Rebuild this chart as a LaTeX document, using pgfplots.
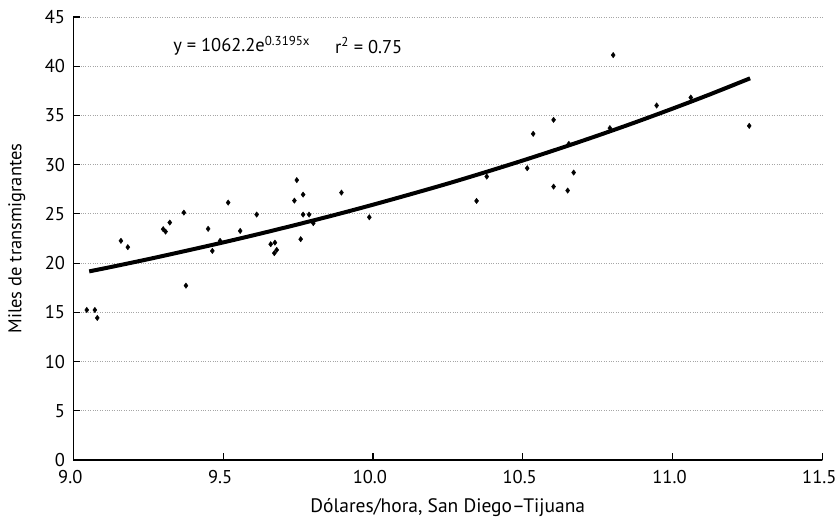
\documentclass[border=0pt]{standalone}
\usepackage{pgfplots}
\pgfplotsset{compat=1.18}
\usepackage{fontspec}
\setmainfont{PT Sans}
\begin{document}
\fontsize{18.5}{22}\selectfont
\begin{tikzpicture}
\path[use as bounding box] (-73.3pt,-58pt) rectangle (763.7pt,460pt);
\begin{axis}[
  scale only axis, width=749pt, height=443pt,
  xmin=9, xmax=11.5, ymin=0, ymax=45,
  axis lines=left, axis line style={-, line width=1.4pt},
  xtick={9,9.5,10,10.5,11,11.5},
  ytick={0,5,...,45},
  tick align=inside, major tick length=7pt,
  tick style={black, line width=1.2pt},
  xticklabel style={/pgf/number format/fixed, /pgf/number format/fixed zerofill, /pgf/number format/precision=1},
  /pgf/number format/assume math mode=true,
  ymajorgrids, grid style={gray!70, dotted, line width=0.8pt},
  xlabel={Dólares/hora, San Diego–Tijuana},
  ylabel={Miles de transmigrantes},
  xlabel style={at={(axis description cs:0.5,-0.086)}, anchor=north, inner sep=0pt, font=\fontsize{19.5}{22}\selectfont},
  ylabel style={at={(axis description cs:-0.0755,0.5)}, anchor=center, inner sep=0pt},
  yticklabel style={xshift=-2pt},
  xticklabel style={yshift=-4pt, xshift=-3pt},
  clip=false,
]
\addplot[only marks, mark=diamond*, mark size=2.7pt, black] coordinates {
(9.045,15.24) (9.072,15.24) (9.080,14.43) (9.159,22.26) (9.182,21.62)
(9.300,23.45) (9.308,23.20) (9.322,24.12) (9.369,25.13) (9.376,17.71)
(9.450,23.48) (9.464,21.24) (9.490,22.26) (9.517,26.15) (9.557,23.27)
(9.612,24.93) (9.659,21.92) (9.673,22.08) (9.671,21.01) (9.679,21.34)
(9.746,28.43) (9.738,26.35) (9.767,26.96) (9.759,22.43) (9.767,24.93)
(9.787,24.93) (9.801,24.06) (9.895,27.16) (9.988,24.66) (10.346,26.32)
(10.380,28.79) (10.515,29.64) (10.535,33.13) (10.603,34.55) (10.603,27.77)
(10.650,27.37) (10.670,29.20) (10.654,32.11) (10.791,33.71) (10.802,41.13)
(10.947,36.01) (11.061,36.82) (11.256,33.94)
};
\addplot[black, line width=4pt, smooth] coordinates {
(9.053,19.16) (9.125,19.60) (9.25,20.40) (9.375,21.24) (9.5,22.10)
(9.625,23.00) (9.75,23.94) (9.875,24.91) (10.0,25.93) (10.125,26.99)
(10.25,28.08) (10.375,29.23) (10.5,30.42) (10.625,31.66) (10.75,32.95)
(10.875,34.29) (11.0,35.69) (11.125,37.14) (11.259,38.77)
};
\node[anchor=west, inner sep=0pt] at (axis cs:9.333,42.1) {y = 1062.2e\textsuperscript{0.3195x}};
\node[anchor=west, inner sep=0pt] at (axis cs:9.873,42.1) {r\textsuperscript{2} = 0.75};
\end{axis}
\end{tikzpicture}
\end{document}
